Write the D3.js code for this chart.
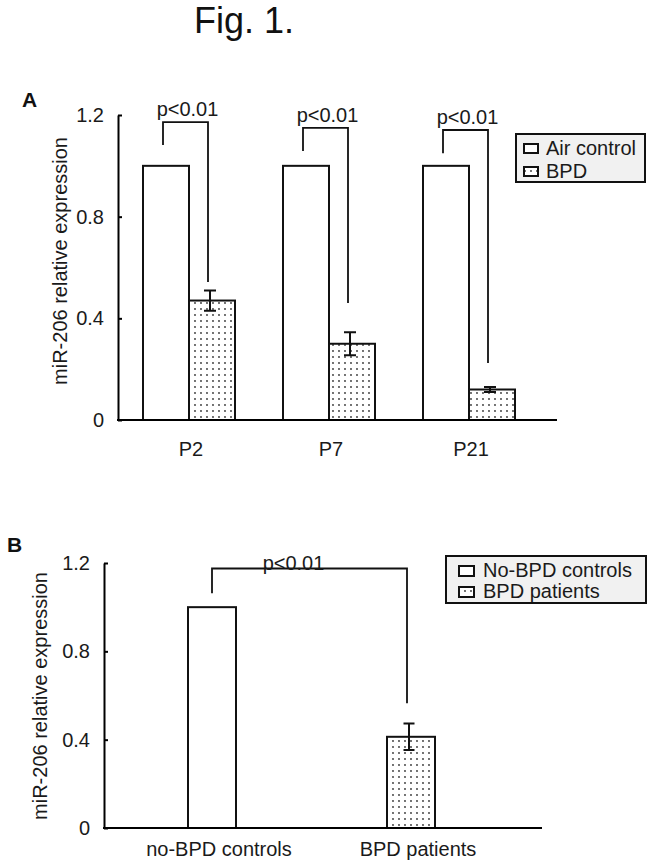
<!DOCTYPE html>
<html>
<head>
<meta charset="utf-8">
<script src="https://cdn.jsdelivr.net/npm/d3@7"></script>
<style>
  html, body { margin: 0; padding: 0; background: #fff; }
  svg { display: block; font-family: "Liberation Sans", Arial, sans-serif; }
</style>
</head>
<body>
<svg id="chart" width="653" height="868"></svg>
<script>
// ---------- DATA ----------
const groupsA = ["P2", "P7", "P21"];
const seriesA = ["Air control", "BPD"];
const airA = [1.0, 1.0, 1.0];
const bpdA = [0.47, 0.30, 0.12];
const bpdErrA = [0.04, 0.045, 0.01];
const sigTextA = ["p<0.01", "p<0.01", "p<0.01"];
const bracketTopA = [1.172, 1.149, 1.141];
const bracketLeftEndA = [1.082, 1.058, 1.05];
const bracketRightEndA = [0.543, 0.46, 0.224];

const groupsB = ["no-BPD controls", "BPD patients"];
const seriesB = ["No-BPD controls", "BPD patients"];
const valuesB = [1.0, 0.413];
const errB = [0, 0.06];
const sigTextB = "p<0.01";
const bracketTopB = 1.175;
const bracketLeftEndB = 1.063;
const bracketRightEndB = 0.565;

const yTicks = [0, 0.4, 0.8, 1.2];
const yTickLabels = ["0", "0.4", "0.8", "1.2"];
const yLabel = "miR-206 relative expression";

// ---------- SETUP ----------
const svg = d3.select("#chart");
const defs = svg.append("defs");
const pat = defs.append("pattern").attr("id", "dots")
  .attr("patternUnits", "userSpaceOnUse").attr("width", 6).attr("height", 6);
pat.append("rect").attr("width", 6).attr("height", 6).attr("fill", "#fff");
pat.append("circle").attr("cx", 3).attr("cy", 3).attr("r", 0.9).attr("fill", "#333");

const FS = 20;

svg.append("text").attr("x", 244).attr("y", 33).attr("text-anchor", "middle")
  .attr("font-size", 36).attr("fill", "#111").text("Fig. 1.");

function drawAxis(g, y, x0, x1) {
  const ax = d3.axisLeft(y).tickValues(yTicks)
    .tickFormat((d, i) => yTickLabels[i])
    .tickSizeInner(-4).tickSizeOuter(0).tickPadding(14);
  const a = g.append("g").attr("transform", `translate(${x0},0)`).call(ax);
  a.select(".domain").attr("stroke", "#000").attr("stroke-width", 2);
  a.selectAll(".tick line").attr("stroke", "#000").attr("stroke-width", 2);
  a.selectAll(".tick text").attr("font-size", FS).attr("fill", "#1a1a1a")
    .attr("font-family", "Liberation Sans, Arial, sans-serif");
  g.append("line").attr("x1", x0 - 1).attr("x2", x1)
    .attr("y1", y(0)).attr("y2", y(0)).attr("stroke", "#000").attr("stroke-width", 2);
}

function bracket(g, xl, xr, yTop, yL, yR) {
  g.append("path")
    .attr("d", `M${xl},${yL}V${yTop}H${xr}V${yR}`)
    .attr("fill", "none").attr("stroke", "#111").attr("stroke-width", 1.8);
}

function errBar(g, x, yHi, yLo, w) {
  g.append("path")
    .attr("d", `M${x},${yHi}V${yLo}M${x - w / 2},${yHi}H${x + w / 2}M${x - w / 2},${yLo}H${x + w / 2}`)
    .attr("fill", "none").attr("stroke", "#111").attr("stroke-width", 2);
}

function legend(g, x, y, w, h, labels, sw, sh, tx, rowGap) {
  g.append("rect").attr("x", x).attr("y", y).attr("width", w).attr("height", h)
    .attr("fill", "#f1f1f1").attr("stroke", "#111").attr("stroke-width", 2);
  labels.forEach((lab, i) => {
    g.append("rect").attr("x", x + 8 + (sw > 14 ? 5 : 0)).attr("y", y + 10 + i * rowGap)
      .attr("width", sw).attr("height", sh)
      .attr("fill", i === 0 ? "#fff" : "url(#dots)").attr("stroke", "#111").attr("stroke-width", 2);
    g.append("text").attr("x", x + tx).attr("y", y + 20 + i * rowGap + 1)
      .attr("font-size", FS).attr("fill", "#1a1a1a").text(lab);
  });
}

// ---------- PANEL A ----------
const gA = svg.append("g");
const yA = d3.scaleLinear().domain([0, 1.2]).range([420, 115]);
const xA = d3.scaleBand().domain(groupsA).range([119, 539]);
const bwA = 46;

gA.append("text").attr("x", 22).attr("y", 107).attr("font-size", 21)
  .attr("font-weight", "bold").attr("fill", "#111").text("A");

gA.append("text").attr("transform", `translate(67,261) rotate(-90)`)
  .attr("text-anchor", "middle").attr("font-size", FS).attr("fill", "#1a1a1a").text(yLabel);

groupsA.forEach((grp, i) => {
  const c = xA(grp) + xA.bandwidth() / 2;
  gA.append("rect").attr("x", c - bwA).attr("y", yA(airA[i]))
    .attr("width", bwA).attr("height", yA(0) - yA(airA[i]))
    .attr("fill", "#fff").attr("stroke", "#111").attr("stroke-width", 2);
  gA.append("rect").attr("x", c).attr("y", yA(bpdA[i]))
    .attr("width", bwA).attr("height", yA(0) - yA(bpdA[i]))
    .attr("fill", "url(#dots)").attr("stroke", "#111").attr("stroke-width", 2);
  errBar(gA, c + bwA / 2 - 2, yA(bpdA[i] + bpdErrA[i]), yA(bpdA[i] - bpdErrA[i]), 12);
  const xl = c - bwA / 2 - 3, xr = c + bwA / 2 - 4;
  bracket(gA, xl, xr, yA(bracketTopA[i]), yA(bracketLeftEndA[i]), yA(bracketRightEndA[i]));
  gA.append("text").attr("x", (xl + xr) / 2 + 2).attr("y", yA(bracketTopA[i]) - 6)
    .attr("text-anchor", "middle").attr("font-size", FS).attr("fill", "#1a1a1a").text(sigTextA[i]);
  gA.append("text").attr("x", c + 2).attr("y", 456)
    .attr("text-anchor", "middle").attr("font-size", FS).attr("fill", "#1a1a1a").text(grp);
});

drawAxis(gA, yA, 118, 557);
legend(gA, 516, 134, 129, 48, seriesA, 14, 9, 30, 23);

// ---------- PANEL B ----------
const gB = svg.append("g");
const yB = d3.scaleLinear().domain([0, 1.2]).range([828, 563]);
const xB = d3.scaleBand().domain(groupsB).range([112.5, 510.5]);
const bwB = 48;

gB.append("text").attr("x", 7).attr("y", 552).attr("font-size", 21)
  .attr("font-weight", "bold").attr("fill", "#111").text("B");

gB.append("text").attr("transform", `translate(47,696) rotate(-90)`)
  .attr("text-anchor", "middle").attr("font-size", FS).attr("fill", "#1a1a1a").text(yLabel);

const centersB = groupsB.map(g => xB(g) + xB.bandwidth() / 2);
groupsB.forEach((grp, i) => {
  const c = centersB[i];
  gB.append("rect").attr("x", c - bwB / 2).attr("y", yB(valuesB[i]))
    .attr("width", bwB).attr("height", yB(0) - yB(valuesB[i]))
    .attr("fill", i === 0 ? "#fff" : "url(#dots)").attr("stroke", "#111").attr("stroke-width", 2);
  if (errB[i] > 0) errBar(gB, c - 2, yB(valuesB[i] + errB[i]), yB(valuesB[i] - errB[i]), 11);
  gB.append("text").attr("x", c + 7).attr("y", 856)
    .attr("text-anchor", "middle").attr("font-size", FS).attr("fill", "#1a1a1a").text(grp);
});
bracket(gB, centersB[0], centersB[1] - 4, yB(bracketTopB), yB(bracketLeftEndB), yB(bracketRightEndB));
gB.append("text").attr("x", (centersB[0] + centersB[1]) / 2 - 18).attr("y", yB(bracketTopB) + 1)
  .attr("text-anchor", "middle").attr("font-size", FS).attr("fill", "#1a1a1a").text(sigTextB);

drawAxis(gB, yB, 104, 542);
legend(gB, 446, 556, 200, 47, seriesB, 15, 10, 37, 21);
</script>
</body>
</html>
